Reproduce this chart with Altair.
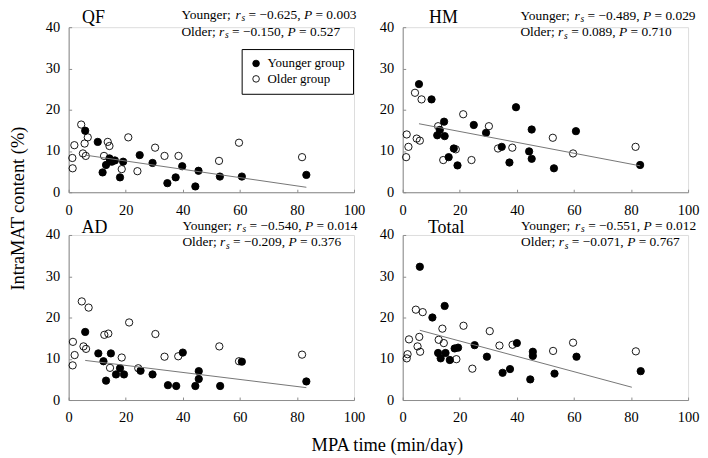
import altair as alt
import pandas as pd

FONT = "Liberation Serif"

# ---------------- data ----------------
panel_names = ["QF", "HM", "AD", "Total"]

qf_young_x = [5.8, 10.2, 14.3, 16.2, 13.1, 15.1, 11.9, 18.0, 19.1, 24.9, 29.4, 34.6, 37.5, 39.8, 44.4, 45.5, 53.0, 60.7, 83.3]
qf_young_y = [14.9, 12.2, 8.2, 7.7, 6.6, 7.4, 4.8, 3.6, 7.4, 9.0, 7.1, 2.2, 3.6, 6.3, 1.4, 5.2, 3.8, 3.8, 4.2]
qf_old_x = [4.4, 6.7, 2.0, 5.6, 1.3, 1.4, 5.0, 6.0, 13.7, 14.3, 12.4, 20.9, 18.6, 24.1, 30.3, 33.6, 38.5, 52.7, 59.7, 81.8]
qf_old_y = [16.4, 13.3, 11.4, 11.8, 8.3, 5.8, 9.4, 8.8, 12.2, 11.2, 8.8, 13.3, 5.6, 5.1, 10.8, 8.8, 8.8, 7.6, 12.0, 8.5]

hm_young_x = [5.7, 10.1, 14.5, 13.0, 12.1, 14.7, 17.9, 16.1, 19.2, 24.9, 29.2, 34.7, 37.4, 39.7, 44.3, 45.2, 45.2, 53.0, 60.7, 83.2]
hm_young_y = [26.2, 22.5, 17.1, 15.1, 13.8, 13.6, 10.6, 8.5, 6.5, 16.3, 14.4, 11.0, 7.2, 20.6, 9.9, 15.2, 8.1, 5.8, 14.8, 6.6]
hm_old_x = [1.4, 2.0, 1.2, 4.3, 6.6, 4.9, 6.0, 12.4, 14.2, 18.6, 21.2, 24.1, 30.2, 33.4, 38.4, 52.6, 59.7, 81.6]
hm_old_y = [14.0, 11.0, 8.5, 24.1, 22.5, 13.0, 12.5, 16.0, 7.8, 10.4, 18.9, 7.8, 16.0, 10.6, 10.8, 13.2, 9.4, 11.0]

ad_young_x = [5.8, 10.4, 12.2, 14.8, 13.1, 16.6, 18.0, 19.4, 25.2, 29.4, 34.8, 37.7, 40.0, 44.4, 45.6, 45.6, 53.1, 60.7, 83.3]
ad_young_y = [16.5, 11.3, 9.4, 11.3, 4.7, 6.2, 7.7, 6.2, 7.1, 6.2, 3.6, 3.4, 11.5, 3.4, 7.0, 5.1, 3.4, 9.3, 4.5]
ad_old_x = [4.6, 7.0, 1.5, 2.1, 1.4, 5.2, 6.1, 12.5, 13.9, 14.5, 18.6, 21.2, 24.4, 30.4, 33.6, 38.4, 52.8, 59.7, 81.8]
ad_old_y = [23.9, 22.4, 14.1, 10.9, 8.4, 13.0, 12.4, 15.8, 16.1, 7.8, 10.3, 18.8, 7.7, 16.0, 10.5, 10.6, 13.0, 9.4, 11.0]

tot_young_x = [6.0, 14.7, 10.4, 12.4, 13.3, 15.0, 16.5, 18.2, 19.4, 25.2, 29.5, 35.0, 37.6, 40.0, 44.7, 45.6, 45.6, 53.2, 60.9, 83.4]
tot_young_y = [32.3, 22.8, 20.0, 11.4, 10.1, 11.4, 9.7, 12.5, 12.7, 13.3, 10.5, 6.6, 7.5, 13.8, 5.0, 11.7, 10.7, 6.4, 10.5, 7.0]
tot_old_x = [4.6, 7.0, 2.2, 1.7, 1.4, 5.8, 5.2, 6.1, 13.9, 12.6, 14.4, 18.8, 21.3, 24.4, 30.5, 33.9, 38.5, 52.7, 59.7, 81.7]
tot_old_y = [21.9, 21.3, 14.7, 11.1, 10.1, 15.3, 13.0, 11.7, 17.3, 14.6, 13.8, 9.9, 18.0, 7.6, 16.7, 13.2, 13.4, 11.9, 13.9, 11.8]

# fitted lines (end points)
qf_line_x, qf_line_y = [5.8, 83.3], [9.0, 1.2]
hm_line_x, hm_line_y = [5.7, 83.2], [16.6, 6.4]
ad_line_x, ad_line_y = [5.8, 83.3], [9.6, 3.0]
tot_line_x, tot_line_y = [6.0, 80.3], [16.9, 3.1]

# correlation statistics
young_rs = ["\u22120.625", "\u22120.489", "\u22120.540", "\u22120.551"]
young_p = ["0.003", "0.029", "0.014", "0.012"]
old_rs = ["\u22120.150", "0.089", "\u22120.209", "\u22120.071"]
old_p = ["0.527", "0.710", "0.376", "0.767"]

group_names = ["Younger group", "Older group"]
x_ticks = [0, 20, 40, 60, 80, 100]
y_ticks = [0, 10, 20, 30, 40]

# ---------------- layout ----------------
W, H = 287, 166
STAT_FS, SUB_FS, LABEL_FS, TICK_FS, TITLE_FS = 13.5, 9.5, 18, 14.5, 18.5
AX_COLOR = "#8c8c8c"

# annotation placement in px relative to each plot's top-left corner
layout = {
    "QF": dict(lab=(25, -9.5), sx=113.4, sy=(-12.4, 4.6)),
    "HM": dict(lab=(41, -9.5), sx=118.4, sy=(-11.5, 5)),
    "AD": dict(lab=(26, -7), sx=114.4, sy=(-9, 7.5)),
    "Total": dict(lab=(43.7, -7.3), sx=119, sy=(-9, 7.5)),
}

REG = {' ': .25, ';': .278, ',': .25, '.': .25, '=': .564, '\u2212': .564, 'Y': .722,
       'o': .5, 'u': .5, 'n': .5, 'g': .5, 'e': .444, 'r': .333, 'O': .722, 'l': .278, 'd': .5}
ITA = {'r': .389, 's': .389, 'P': .611}


def tw(s, table, fs):
    return sum(table.get(c, .5) for c in s) * fs


def stat_segments(prefix, rs, p):
    # (text, style, size, dy, extra gap after)
    return [
        (prefix, "normal", STAT_FS, 0, 0),
        ("r", "italic", STAT_FS, 0, 0.8),
        ("s", "italic", SUB_FS, 3.5, 0),
        (" = " + rs + ", ", "normal", STAT_FS, 0, 0),
        ("P", "italic", STAT_FS, 0, 0),
        (" = " + p, "normal", STAT_FS, 0, 0),
    ]


def text_layers(segs, x0, y0):
    layers = []
    cur = 0.0
    for txt, style, fs, dy, gap in segs:
        table = ITA if style == "italic" else REG
        lead = len(txt) - len(txt.lstrip(" "))
        xpos = x0 + cur + lead * REG[' '] * fs
        cur += tw(txt, table, fs) + gap
        layers.append(
            alt.Chart(pd.DataFrame({"t": [txt.strip()]})).mark_text(
                align="left", baseline="middle", font=FONT, fontSize=fs,
                fontStyle=style, color="black", dy=dy
            ).encode(x=alt.value(xpos), y=alt.value(y0), text="t:N")
        )
    return layers


def make_panel(i, yx, yy, ox, oy, lx, ly, row, col):
    name = panel_names[i]
    lay = layout[name]
    df = pd.DataFrame({
        "x": ox + yx,
        "y": oy + yy,
        "group": [group_names[1]] * len(ox) + [group_names[0]] * len(yx),
    })
    xaxis_kw = dict(values=x_ticks, grid=False, domainColor=AX_COLOR, tickColor=AX_COLOR,
                    tickSize={"expr": "-3"}, labelPadding=14, labelFont=FONT,
                    labelFontSize=TICK_FS, labelColor="black", format="d", labelFlush=False)
    yaxis_kw = dict(values=y_ticks, grid=False, domainColor=AX_COLOR, tickColor=AX_COLOR,
                    tickSize={"expr": "-3"}, labelPadding=12, labelFont=FONT,
                    labelFontSize=TICK_FS, labelColor="black", format="d", labelFlush=False)
    if row == 1 and col == 0:
        xaxis = alt.Axis(title="MPA time (min/day)", titleFont=FONT, titleFontSize=TITLE_FS,
                         titleFontWeight="normal", titleColor="black", titleX=320,
                         titleY=45, titleBaseline="middle", titleAlign="center", **xaxis_kw)
    else:
        xaxis = alt.Axis(title=None, **xaxis_kw)
    if row == 0 and col == 0:
        yaxis = alt.Axis(title="IntraMAT content (%)", titleFont=FONT, titleFontSize=TITLE_FS,
                         titleFontWeight="normal", titleColor="black", titleX=-51,
                         titleY=182, titleBaseline="middle", titleAlign="center", **yaxis_kw)
    else:
        yaxis = alt.Axis(title=None, **yaxis_kw)

    if i == 0:
        legend = alt.Legend(title=None, orient="none", legendX=174, legendY=22,
                            strokeColor="black", fillColor="white", padding=8,
                            labelFont=FONT, labelFontSize=13, labelColor="black",
                            symbolType="circle", symbolSize=44, symbolStrokeColor="black",
                            symbolStrokeWidth=0.9, rowPadding=1.5, labelOffset=5)
    else:
        legend = None

    xs = alt.Scale(domain=[0, 100], nice=False, zero=False)
    ys = alt.Scale(domain=[0, 40], nice=False)

    pts = alt.Chart(df).mark_point(
        filled=True, size=54, stroke="black", strokeWidth=0.9, opacity=1
    ).encode(
        x=alt.X("x:Q", scale=xs, axis=xaxis),
        y=alt.Y("y:Q", scale=ys, axis=yaxis),
        fill=alt.Fill("group:N", scale=alt.Scale(domain=group_names, range=["black", "transparent"]),
                      legend=legend),
    )
    line = alt.Chart(pd.DataFrame({"x": lx, "y": ly})).mark_line(
        color="#767676", strokeWidth=1
    ).encode(x="x:Q", y="y:Q")

    label = alt.Chart(pd.DataFrame({"t": [name]})).mark_text(
        align="center", baseline="middle", font=FONT, fontSize=LABEL_FS, color="black"
    ).encode(x=alt.value(lay["lab"][0]), y=alt.value(lay["lab"][1]), text="t:N")

    texts = text_layers(stat_segments("Younger; ", young_rs[i], young_p[i]), lay["sx"], lay["sy"][0])
    texts += text_layers(stat_segments("Older; ", old_rs[i], old_p[i]), lay["sx"], lay["sy"][1])

    return alt.layer(pts, line, label, *texts).properties(width=W, height=H)


qf = make_panel(0, qf_young_x, qf_young_y, qf_old_x, qf_old_y, qf_line_x, qf_line_y, 0, 0)
hm = make_panel(1, hm_young_x, hm_young_y, hm_old_x, hm_old_y, hm_line_x, hm_line_y, 0, 1)
ad = make_panel(2, ad_young_x, ad_young_y, ad_old_x, ad_old_y, ad_line_x, ad_line_y, 1, 0)
tot = make_panel(3, tot_young_x, tot_young_y, tot_old_x, tot_old_y, tot_line_x, tot_line_y, 1, 1)

chart = alt.concat(qf, hm, ad, tot, columns=2, spacing={"row": 43, "column": 49}, bounds="flush").properties(
    padding={"left": 0, "top": -2, "right": 0, "bottom": 0}
).configure_view(stroke=None).configure(font=FONT)

chart.save("out.html", embed_options={"renderer": "svg", "actions": False})
